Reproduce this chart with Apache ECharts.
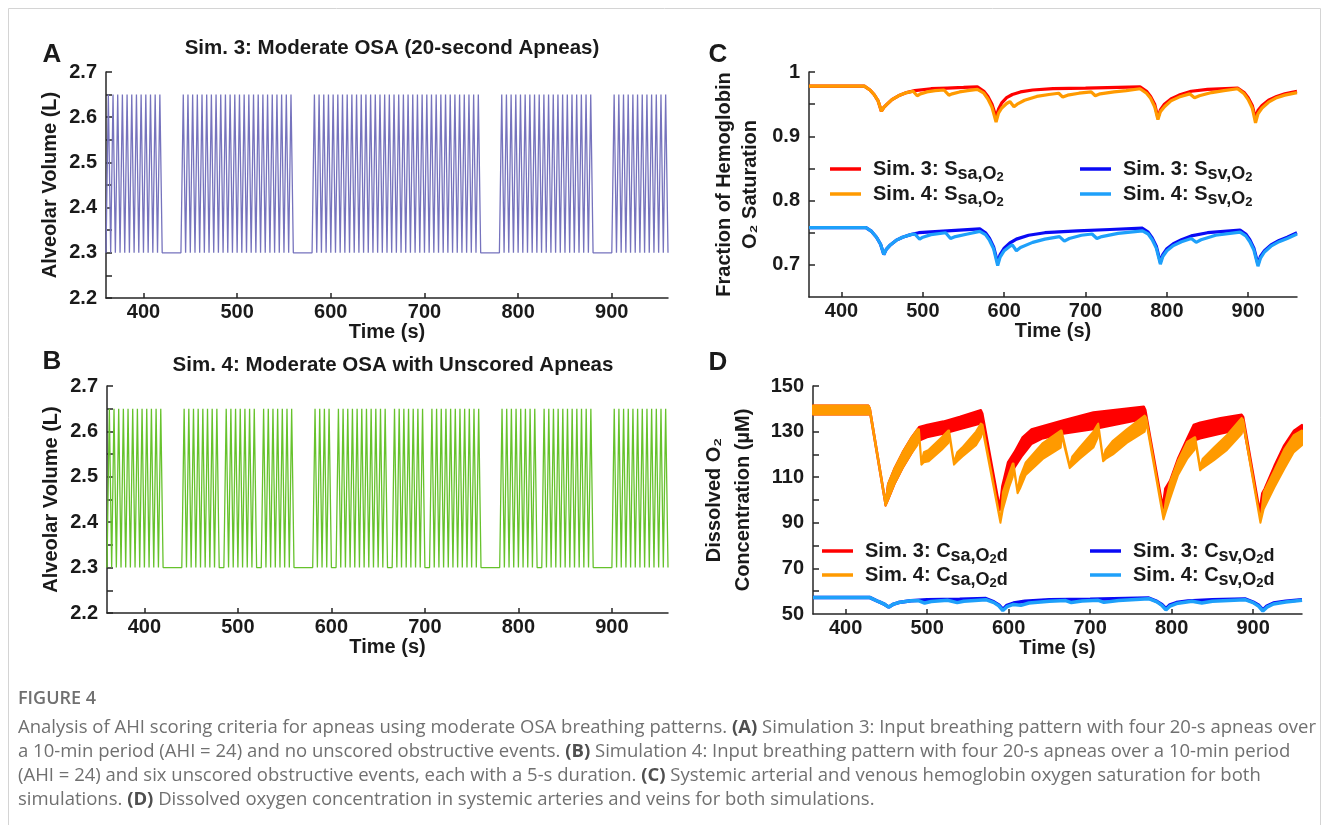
<!DOCTYPE html>
<html>
<head>
<meta charset="utf-8">
<script src="https://cdn.jsdelivr.net/npm/echarts@6/dist/echarts.min.js"></script>
<style>
html,body{margin:0;padding:0;background:#fff}
#chart{width:1328px;height:825px}
</style>
</head>
<body>
<div id="chart"></div>
<script>
// axis ticks / labels
const timeTicks=[400,500,600,700,800,900]
const volTicks=[2.2,2.25,2.3,2.35,2.4,2.45,2.5,2.55,2.6,2.65,2.7]
const volLabels=[2.2,2.3,2.4,2.5,2.6,2.7]
const satTicks=[0.7,0.75,0.8,0.85,0.9,0.95,1]
const satLabels=[0.7,0.8,0.9,1]
const concTicks=[60,70,80,90,100,110,120,130,140,150]
const concLabels=[50,70,90,110,130,150]

const sim3Onsets=[360,365,370,375,380,385,390,395,400,405,410,415,
  440,445,450,455,460,465,470,475,480,485,490,495,500,505,510,515,520,525,530,535,540,545,550,555,
  580,585,590,595,600,605,610,615,620,625,630,635,640,645,650,655,660,665,670,675,680,685,690,695,700,705,710,715,720,725,730,735,740,745,750,755,
  780,785,790,795,800,805,810,815,820,825,830,835,840,845,850,855,860,865,870,875,
  900,905,910,915,920,925,930,935,940,945,950,955]
const sim4Onsets=[360,365,370,375,380,385,390,395,400,405,410,415,
  440,445,450,455,460,465,470,475,485,490,495,500,505,510,515,525,530,535,540,545,550,555,
  580,585,590,595,605,610,615,620,625,630,635,640,645,650,655,665,670,675,680,685,690,695,705,710,715,720,725,730,735,740,745,750,755,
  780,785,790,795,800,805,810,815,825,830,835,840,845,850,855,860,865,870,875,
  900,905,910,915,920,925,930,935,940,945,950,955]
const volLow=2.3
const volHigh=2.65

// panel C: hemoglobin O2 saturation [time, fraction]
const ssaSim3=[[360,0.978],[428,0.978],[435,0.972],[440,0.965],[445,0.955],[449,0.939],[452,0.945],[456,0.950],[462,0.957],[470,0.963],[480,0.968],[490,0.971],[510,0.974],[530,0.975],[550,0.976],[567,0.977],[575,0.970],[580,0.962],[585,0.950],[590,0.930],[593,0.942],[597,0.952],[603,0.960],[610,0.965],[620,0.969],[635,0.972],[660,0.974],[700,0.975],[767,0.977],[775,0.970],[780,0.962],[785,0.950],[789,0.929],[792,0.941],[797,0.950],[805,0.958],[815,0.964],[830,0.970],[850,0.973],[887,0.975],[895,0.968],[900,0.960],[905,0.948],[909,0.928],[912,0.940],[917,0.948],[925,0.956],[935,0.962],[945,0.966],[960,0.970]]
const ssaSim4=[[360,0.978],[428,0.978],[435,0.972],[440,0.965],[445,0.955],[449,0.939],[452,0.945],[456,0.950],[462,0.957],[470,0.963],[480,0.968],[488,0.970],[493,0.963],[497,0.966],[505,0.969],[515,0.971],[526,0.972],[532,0.964],[536,0.966],[545,0.969],[555,0.971],[567,0.973],[575,0.967],[580,0.958],[585,0.945],[590,0.922],[593,0.936],[597,0.944],[603,0.951],[607,0.954],[612,0.946],[616,0.950],[625,0.956],[640,0.962],[655,0.965],[667,0.967],[672,0.961],[678,0.964],[692,0.967],[707,0.969],[712,0.963],[718,0.966],[735,0.969],[750,0.971],[767,0.974],[775,0.967],[780,0.959],[785,0.946],[789,0.926],[792,0.938],[797,0.946],[805,0.955],[815,0.961],[828,0.966],[834,0.960],[840,0.963],[855,0.968],[870,0.971],[887,0.974],[895,0.966],[900,0.957],[905,0.944],[909,0.921],[912,0.935],[917,0.944],[925,0.953],[935,0.960],[945,0.964],[960,0.968]]
const ssvSim3=[[360,0.758],[430,0.758],[437,0.752],[443,0.743],[448,0.732],[452,0.716],[455,0.724],[460,0.731],[467,0.738],[475,0.743],[485,0.747],[495,0.750],[520,0.752],[545,0.754],[570,0.756],[577,0.750],[582,0.741],[587,0.728],[592,0.703],[595,0.716],[600,0.726],[607,0.734],[615,0.740],[630,0.746],[650,0.750],[690,0.753],[730,0.755],[770,0.757],[777,0.751],[782,0.742],[787,0.729],[792,0.704],[795,0.716],[800,0.725],[808,0.733],[818,0.739],[830,0.745],[850,0.750],[870,0.752],[890,0.754],[897,0.748],[902,0.739],[907,0.726],[912,0.701],[915,0.713],[920,0.722],[928,0.731],[938,0.738],[948,0.743],[960,0.750]]
const ssvSim4=[[360,0.758],[430,0.758],[437,0.752],[443,0.743],[448,0.732],[452,0.716],[455,0.724],[460,0.731],[467,0.738],[475,0.743],[485,0.747],[490,0.748],[496,0.740],[500,0.743],[510,0.747],[528,0.750],[534,0.741],[540,0.744],[555,0.748],[570,0.752],[577,0.747],[582,0.738],[587,0.725],[592,0.699],[595,0.712],[600,0.722],[607,0.729],[610,0.731],[615,0.722],[620,0.727],[635,0.735],[650,0.740],[668,0.744],[674,0.737],[680,0.741],[695,0.746],[708,0.748],[714,0.741],[720,0.744],[740,0.749],[770,0.753],[777,0.748],[782,0.739],[787,0.726],[792,0.701],[795,0.713],[800,0.722],[808,0.730],[818,0.736],[830,0.741],[836,0.735],[842,0.739],[860,0.746],[890,0.751],[897,0.745],[902,0.736],[907,0.723],[912,0.698],[915,0.710],[920,0.720],[928,0.729],[938,0.736],[948,0.741],[960,0.748]]

// panel D: arterial dissolved O2, per-breath swing [time, low, high] (uM)
const csaSim3=[[360,137.5,141.5],[428,137.5,141.5],[430,138,140],[449,97.5,99],[452,100,107],[460,107,114],[470,114,121],[480,120,127],[490,126,132],[500,127.5,133],[520,129,134.5],[540,131,136.5],[566,133.5,139.5],[568,135,138],[589,95.5,97],[592,98,106],[599,110,116.5],[607,114,121],[617,119.5,127.5],[628,124.5,131],[642,127,132.5],[667,129,135],[704,131,138.5],[766,135.5,141],[768,137,139.5],[789,96,97.5],[792,98,105],[798,102,108.5],[808,112,118.5],[819,120,127],[827,126,133],[835,127,134],[860,129,136],[886,131,137.5],[888,132.5,136.5],[908,94,95.5],[911,96,103],[914,98.5,105],[926,108,115],[938,116,124],[950,123,130.5],[960,126,133]]
const csaSim4=[[360,137.5,141.5],[428,137.5,141.5],[430,138,140],[449,97.5,99],[452,100,107],[460,107,114],[470,114,121],[480,120,127],[488,124,131],[490,129.5,131],[493,115.5,116.5],[496,116.5,121],[502,117,122],[518,122,127.5],[526,125,130.5],[527,129,130.5],[533,115.5,116.5],[537,117,121],[543,119,123],[560,124,130],[566,127.5,133.5],[568,131,133],[590,90,91],[593,96,103.5],[601,106,112],[605,110,116],[606,114.5,116],[611,103,104],[614,105,110],[621,111,116.5],[642,118,125],[664,123,130.5],[665,128.5,130.5],[675,114,115],[678,115,119],[687,118,123],[704,123,130],[709,127,133],[710,132,133.5],[716,117,118],[719,118,122],[728,120,126],[745,125,131],[767,130,137],[769,134,136],[790,91.5,93],[793,95,100],[798,100.5,108],[808,111,117.5],[819,118,125.5],[828,122,127.5],[829,126,127.5],[835,113,114.5],[838,114,118],[852,117.5,123],[868,122,128.5],[886,129,136],[888,133,135],[909,90,91],[913,96,103.5],[926,105.5,113],[938,113.5,122],[950,121,128.5],[960,124,130.5]]
// panel D: venous dissolved O2 [time, uM]
const csvSim3=[[360,57.2],[430,57.2],[440,55.5],[448,54.2],[453,53.0],[458,54.2],[465,55.0],[480,55.8],[500,56.2],[540,56.5],[572,56.8],[582,55.3],[588,54.0],[593,52.0],[598,53.8],[606,54.8],[620,55.6],[650,56.2],[700,56.5],[772,57.0],[782,55.5],[788,54.2],[793,52.3],[798,54.0],[806,55.0],[820,55.7],[850,56.2],[890,56.6],[900,55.2],[907,53.8],[912,51.8],[917,53.5],[925,54.8],[940,55.6],[960,56.2]]
const csvSim4=[[360,57.2],[430,57.2],[440,55.5],[448,54.2],[453,53.0],[458,54.2],[465,55.0],[480,55.8],[490,55.8],[497,54.8],[505,55.5],[525,56.0],[537,55.0],[545,55.6],[572,56.3],[582,55.0],[588,53.6],[593,51.5],[598,53.2],[606,54.2],[615,53.8],[625,54.8],[650,55.6],[670,55.9],[677,55.0],[690,55.7],[710,56.0],[717,55.1],[735,55.9],[772,56.7],[782,55.3],[788,53.8],[793,51.8],[798,53.5],[806,54.6],[825,55.6],[837,54.8],[850,55.6],[890,56.3],[900,55.0],[907,53.4],[912,51.3],[917,53.0],[925,54.4],[940,55.3],[960,56.0]]

const FONT='"Liberation Sans", Arial, sans-serif'
const CAPFONT='"Open Sans", sans-serif'
const INK='#1a1a1a'
const AXIS='#262626'

const myChart=echarts.init(document.getElementById('chart'))

// each breath: up from the trough to the peak and back down
function volumeLine(onsets){
  const pts=[]
  onsets.forEach(t=>{
    pts.push([t,volLow],[t+2.5,volHigh],[t+5,volLow])
  })
  return pts
}

const labelFont={fontFamily:FONT,fontWeight:'bold',fontSize:20,color:INK}

function xAxisFor(grid){
  return {
    type:'value',gridIndex:grid,min:360,max:960,
    name:'Time (s)',nameLocation:'middle',nameGap:20,
    nameTextStyle:labelFont,
    axisLine:{onZero:false,lineStyle:{color:AXIS,width:1.5}},
    axisTick:{inside:true,length:5,customValues:timeTicks,lineStyle:{color:AXIS,width:1.5}},
    axisLabel:Object.assign({customValues:timeTicks,margin:4},labelFont),
    splitLine:{show:false}
  }
}
function yAxisFor(grid,min,max,ticks,labels,name,gap,lh){
  return {
    type:'value',gridIndex:grid,min:min,max:max,
    name:name,nameLocation:'middle',nameGap:gap,nameRotate:90,
    nameTextStyle:Object.assign({lineHeight:lh||24},labelFont),
    axisLine:{onZero:false,lineStyle:{color:AXIS,width:1.5}},
    axisTick:{inside:true,length:6,customValues:ticks,lineStyle:{color:AXIS,width:1.5}},
    axisLabel:Object.assign({customValues:labels,margin:9},labelFont),
    splitLine:{show:false}
  }
}

function bandSeries(name,color,band){
  return {
    name:name,type:'custom',xAxisIndex:3,yAxisIndex:3,
    itemStyle:{color:color},
    data:band,
    encode:{x:0,y:[1,2]},
    renderItem:function(params,api){
      if(params.dataIndex!==0) return
      const upper=band.map(p=>api.coord([p[0],p[2]]))
      const lower=band.map(p=>api.coord([p[0],p[1]])).reverse()
      return {type:'polygon',shape:{points:upper.concat(lower)},
        style:{fill:color,stroke:color,lineWidth:2,lineJoin:'round'}}
    }
  }
}
function lineSeries(name,color,data,xi,width){
  return {name:name,type:'line',xAxisIndex:xi,yAxisIndex:xi,data:data,
    color:color,showSymbol:false,symbol:'none',
    lineStyle:{color:color,width:width}}
}

const legendText={
  'Sim. 3: Ssa,O2':'{m|Sim. 3: S}{s|sa,O}{t|2}',
  'Sim. 4: Ssa,O2':'{m|Sim. 4: S}{s|sa,O}{t|2}',
  'Sim. 3: Ssv,O2':'{m|Sim. 3: S}{s|sv,O}{t|2}',
  'Sim. 4: Ssv,O2':'{m|Sim. 4: S}{s|sv,O}{t|2}',
  'Sim. 3: Csa,O2d':'{m|Sim. 3: C}{s|sa,O}{t|2}{s|d}',
  'Sim. 4: Csa,O2d':'{m|Sim. 4: C}{s|sa,O}{t|2}{s|d}',
  'Sim. 3: Csv,O2d':'{m|Sim. 3: C}{s|sv,O}{t|2}{s|d}',
  'Sim. 4: Csv,O2d':'{m|Sim. 4: C}{s|sv,O}{t|2}{s|d}'
}
function legendAt(name,left,top){
  return {
    data:[name],left:left,top:top,padding:0,selectedMode:false,
    icon:'rect',itemWidth:31,itemHeight:3.5,
    formatter:n=>legendText[n],
    textStyle:{padding:[0,0,0,7],rich:{
      m:{fontFamily:FONT,fontWeight:'bold',fontSize:20,color:INK,lineHeight:24},
      s:{fontFamily:FONT,fontWeight:'bold',fontSize:18,color:INK,lineHeight:18,padding:[11,0,0,0]},
      t:{fontFamily:FONT,fontWeight:'bold',fontSize:13,color:INK,lineHeight:13,padding:[17,0,0,0]}
    }}
  }
}

function txt(text,x,y,size,extra){
  return {type:'text',silent:true,style:Object.assign({text:text,x:x,y:y,align:'center',verticalAlign:'middle',
    fontFamily:FONT,fontWeight:'bold',fontSize:size,fill:INK},extra||{})}
}
const capStyle={fontFamily:CAPFONT,fontSize:18.5,fill:'#707070',align:'left',verticalAlign:'middle',fontWeight:'normal',
  rich:{b:{fontFamily:CAPFONT,fontSize:18.5,fontWeight:'bold',fill:'#4f4f4f'}}}
function capLine(text,y){
  return {type:'text',silent:true,style:Object.assign({x:18,y:y,text:text},capStyle)}
}

const option={
  animation:false,
  backgroundColor:'#fff',
  grid:[
    {left:106,top:72,width:562,height:226},
    {left:107,top:386,width:561,height:227},
    {left:809,top:72,width:488,height:225},
    {left:813,top:386,width:489,height:228}
  ],
  xAxis:[xAxisFor(0),xAxisFor(1),xAxisFor(2),xAxisFor(3)],
  yAxis:[
    yAxisFor(0,2.2,2.7,volTicks,volLabels,'Alveolar Volume (L)',44),
    yAxisFor(1,2.2,2.7,volTicks,volLabels,'Alveolar Volume (L)',44),
    yAxisFor(2,0.65,1,satTicks,satLabels,'Fraction of Hemoglobin\nO₂ Saturation',46,26),
    yAxisFor(3,50,150,concTicks,concLabels,'Dissolved O₂\nConcentration (µM)',55,29)
  ],
  legend:[
    legendAt('Sim. 3: Ssa,O2',830,154),
    legendAt('Sim. 4: Ssa,O2',830,179),
    legendAt('Sim. 3: Ssv,O2',1080,154),
    legendAt('Sim. 4: Ssv,O2',1080,179),
    legendAt('Sim. 3: Csa,O2d',822,536),
    legendAt('Sim. 4: Csa,O2d',822,560),
    legendAt('Sim. 3: Csv,O2d',1090,536),
    legendAt('Sim. 4: Csv,O2d',1090,560)
  ],
  series:[
    lineSeries('Sim. 3 volume','#7673bd',volumeLine(sim3Onsets),0,1.3),
    lineSeries('Sim. 4 volume','#66c22c',volumeLine(sim4Onsets),1,1.3),
    lineSeries('Sim. 3: Ssa,O2','#ff0000',ssaSim3,2,3.2),
    lineSeries('Sim. 4: Ssa,O2','#ff9a00',ssaSim4,2,3.2),
    lineSeries('Sim. 3: Ssv,O2','#0a0af5',ssvSim3,2,3.2),
    lineSeries('Sim. 4: Ssv,O2','#1ea0fa',ssvSim4,2,3.2),
    bandSeries('Sim. 3: Csa,O2d','#ff0000',csaSim3),
    bandSeries('Sim. 4: Csa,O2d','#ff9a00',csaSim4),
    lineSeries('Sim. 3: Csv,O2d','#0a0af5',csvSim3,3,3.5),
    lineSeries('Sim. 4: Csv,O2d','#1ea0fa',csvSim4,3,3.5)
  ],
  graphic:[
    {type:'rect',silent:true,z:-10,shape:{x:8.5,y:8.5,width:1312,height:840},style:{fill:'none',stroke:'#d4d4d4',lineWidth:1}},
    txt('A',52,55,26),
    txt('B',52,362,26),
    txt('C',718,55,26),
    txt('D',718,363,26),
    txt('Sim. 3: Moderate OSA (20-second Apneas)',392,48,20.5),
    txt('Sim. 4: Moderate OSA with Unscored Apneas',393,365,20.5),
    txt('FIGURE 4',18,699,18,{align:'left',fontFamily:CAPFONT,fontWeight:600,fill:'#707070'}),
    capLine('Analysis of AHI scoring criteria for apneas using moderate OSA breathing patterns. {b|(A)} Simulation 3: Input breathing pattern with four 20-s apneas over',728),
    capLine('a 10-min period (AHI = 24) and no unscored obstructive events. {b|(B)} Simulation 4: Input breathing pattern with four 20-s apneas over a 10-min period',752),
    capLine('(AHI = 24) and six unscored obstructive events, each with a 5-s duration. {b|(C)} Systemic arterial and venous hemoglobin oxygen saturation for both',776),
    capLine('simulations. {b|(D)} Dissolved oxygen concentration in systemic arteries and veins for both simulations.',800)
  ]
}
myChart.setOption(option)
</script>
</body>
</html>
